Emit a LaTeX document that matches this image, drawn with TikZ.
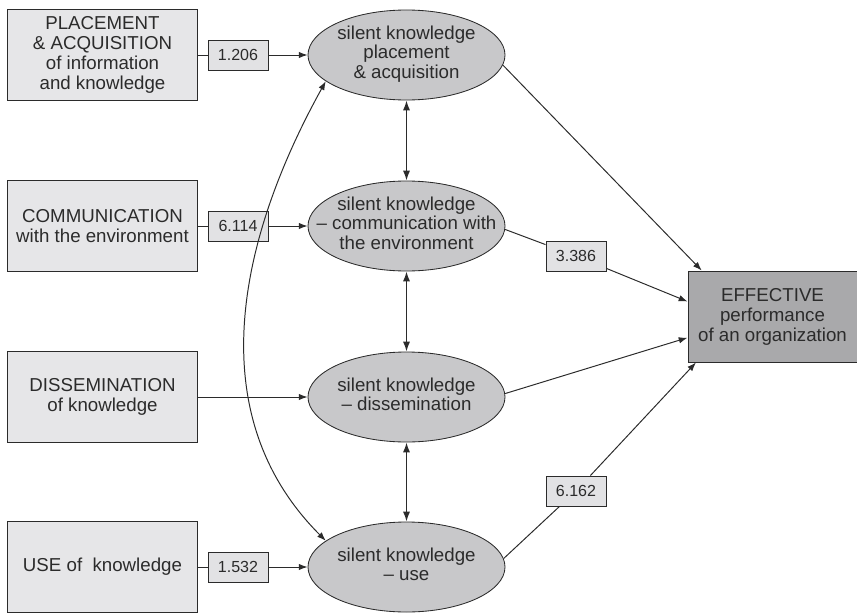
\documentclass[tikz,border=0pt]{standalone}
\usepackage{fontspec}
\setmainfont{Liberation Sans}
\usetikzlibrary{arrows.meta,positioning,calc,shapes.geometric}
\definecolor{srcgray}{HTML}{E6E6E8}
\definecolor{ovalgray}{HTML}{C8C8CA}
\definecolor{perfgray}{HTML}{A9A9AB}
\definecolor{wgtgray}{HTML}{E2E2E4}
\definecolor{inkgray}{HTML}{2B2B2B}
\newcommand{\ovaltext}[1]{\makebox[0pt]{\begin{tabular}{@{}c@{}}#1\end{tabular}}}

\begin{document}
\begin{tikzpicture}[every node/.style={font=\fontsize{13.3}{14.2}\selectfont,text=inkgray},
  src/.style={draw=inkgray,fill=srcgray,line width=0.7pt,minimum width=4.75cm,minimum height=2.275cm,align=center},
  sk/.style={ellipse,draw=inkgray,fill=ovalgray,line width=0.6pt,minimum width=4.925cm,minimum height=2.25cm,inner sep=0pt},
  wgt/.style={draw=inkgray,fill=wgtgray,line width=0.7pt,minimum width=1.5cm,minimum height=0.75cm,inner sep=0pt,font=\fontsize{11.4}{13}\selectfont},
  outbox/.style={draw=inkgray,fill=perfgray,line width=0.7pt,minimum width=4.225cm,minimum height=2.275cm,align=center},
  ln/.style={draw=inkgray,line width=0.7pt},
  arr/.style={ln,-{Latex[length=2.2mm,width=1.6mm]}},
  dbl/.style={ln,{Latex[length=2.2mm,width=1.6mm]}-{Latex[length=2.2mm,width=1.6mm]}},
  vdbl/.style={draw=inkgray,line width=1pt,{Latex[length=2.5mm,width=1.8mm]}-{Latex[length=2.5mm,width=1.8mm]}}]
\useasboundingbox (0,0) rectangle (21.425,-15.3);
\node[src] (b1) at (2.5625,-1.375) {PLACEMENT\\\& ACQUISITION\\of information\\and knowledge};
\node[src] (b2) at (2.5625,-5.65) {COMMUNICATION\\with the environment};
\node[src] (b3) at (2.5625,-9.925) {DISSEMINATION\\of knowledge};
\node[src] (b4) at (2.5625,-14.175) {USE of\ \ knowledge};
\node[sk] (e1) at (10.1625,-1.375) {\ovaltext{silent knowledge\\placement\\\& acquisition}};
\node[sk] (e2) at (10.1625,-5.65) {\ovaltext{silent knowledge\\– communication with\\the environment}};
\node[sk] (e3) at (10.1625,-9.925) {\ovaltext{silent knowledge\\– dissemination}};
\node[sk] (e4) at (10.1625,-14.175) {\ovaltext{silent knowledge\\– use}};
\node[wgt] (v1) at (5.95,-1.375) {1.206};
\node[wgt] (v2) at (5.95,-5.65) {6.114};
\node[wgt] (v4) at (5.95,-14.175) {1.532};
\node[wgt] (v5) at (14.4,-6.4) {3.386};
\node[wgt] (v6) at (14.4,-12.275) {6.162};
\node[outbox] (perf) at (19.3125,-7.9125) {EFFECTIVE\\performance\\of an organization};
\draw[ln] (b1) -- (v1);
\draw[arr] (v1) -- (e1);
\draw[ln] (b2) -- (v2);
\draw[arr] (v2) -- (e2);
\draw[arr] (b3) -- (e3);
\draw[ln] (b4) -- (v4);
\draw[arr] (v4) -- (e4);
\draw[vdbl] (e1) -- (e2);
\draw[vdbl] (e2) -- (e3);
\draw[vdbl] (e3) -- (e4);
\draw[dbl] (e1.198) to[out=241,in=135] (e4.162);
\draw[arr] (e1.-6) -- (perf.147);
\draw[ln] (e2.-2) -- (v5);
\draw[arr] (v5) -- (perf.170);
\draw[arr] (e3.2) -- (perf.194);
\draw[ln] (e4.5) -- (v6);
\draw[arr] (v6) -- (perf.211);
\end{tikzpicture}
\end{document}
